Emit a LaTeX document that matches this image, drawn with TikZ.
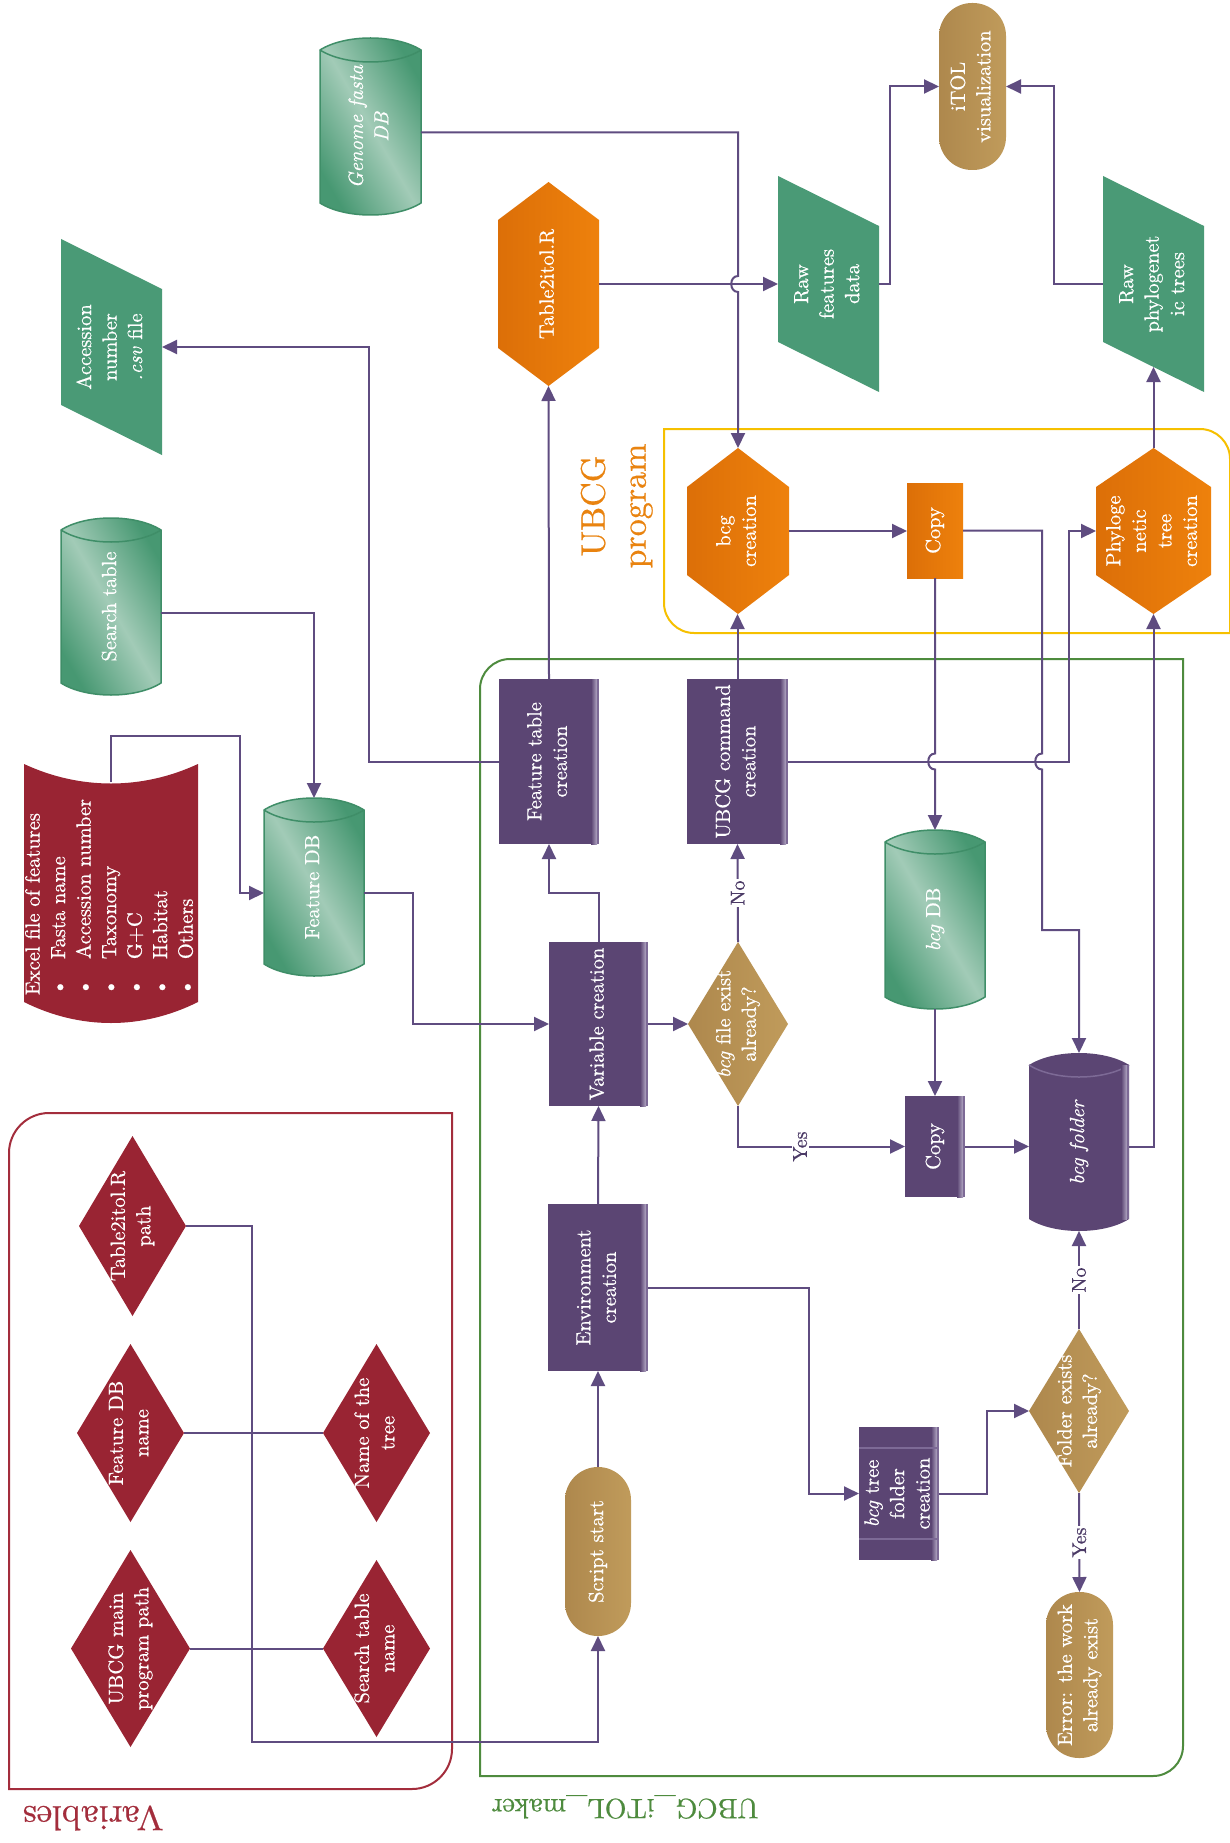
\documentclass[tikz,border=0pt]{standalone}
\usepackage{fontspec}
\setmainfont{lmroman10-regular.otf}[ItalicFont=lmroman10-italic.otf, BoldFont=lmroman10-bold.otf, FakeBold=0.6]
\usetikzlibrary{arrows.meta,calc}
\definecolor{pur}{HTML}{5B4573}
\definecolor{purL}{HTML}{B3A8C4}
\definecolor{purM}{HTML}{7D6A96}
\definecolor{lnc}{HTML}{5F4C80}
\definecolor{lbc}{HTML}{4B3A66}
\definecolor{grn}{HTML}{479872}
\definecolor{grnL}{HTML}{A2CBB7}
\definecolor{grnD}{HTML}{3F8E68}
\definecolor{grnP}{HTML}{4A9A76}
\definecolor{org}{HTML}{DC6F08}
\definecolor{orgL}{HTML}{EE810C}
\definecolor{orgT}{HTML}{E9830F}
\definecolor{gold}{HTML}{AE884D}
\definecolor{goldL}{HTML}{C09B5B}
\definecolor{redN}{HTML}{992433}
\definecolor{ylw}{HTML}{F6C000}
\definecolor{grC}{HTML}{4E8B3E}
\definecolor{rdC}{HTML}{A32D3C}
\tikzset{
  nd/.style={inner sep=0pt, outer sep=0pt, text=white, font=\fontsize{20.5}{25.5}\selectfont},
  ln/.style={draw=lnc, line width=2pt},
  arr/.style={ln, -{Triangle[length=15pt,width=14pt]}},
  lbl/.style={fill=white, text=lbc, inner sep=1.5pt, font=\fontsize{20}{22}\selectfont},
  cylG/.style={draw=grnD, line width=1.5pt, left color=grn, right color=grn, middle color=grnL, shading angle=120},
  arcG/.style={draw=grnD, line width=1.5pt},
  hexO/.style={left color=org, right color=orgL},
  goldS/.style={left color=gold, right color=goldL},
}
\newcommand{\rt}[1]{\rotatebox{90}{\begin{tabular}{@{}c@{}}#1\end{tabular}}}
\newcommand{\shpHex}[6]{\path[#1] ({(#2+#4)/2},#3) -- (#4,{#3+#6}) -- (#4,{#5-#6}) -- ({(#2+#4)/2},#5) -- (#2,{#5-#6}) -- (#2,{#3+#6}) -- cycle;}
\newcommand{\shpPara}[6]{\path[#1] (#2,#3) -- (#4,{#3+#6}) -- (#4,#5) -- (#2,{#5-#6}) -- cycle;}
\newcommand{\shpDia}[5]{\path[#1] (#2,{#3-#5/2}) -- ({#2+#4/2},#3) -- (#2,{#3+#5/2}) -- ({#2-#4/2},#3) -- cycle;}
\newcommand{\shpCyl}[7]{%
  \path[#1] (#2,{#3+#6}) .. controls ({#2+(#4-#2)/4},{#3+#6-4/3*#6}) and ({#4-(#4-#2)/4},{#3+#6-4/3*#6}) .. (#4,{#3+#6})
    -- (#4,{#5-#6}) .. controls ({#4-(#4-#2)/4},{#5-#6+4/3*#6}) and ({#2+(#4-#2)/4},{#5-#6+4/3*#6}) .. (#2,{#5-#6}) -- cycle;
  \path[#7] (#2,{#3+#6}) .. controls ({#2+(#4-#2)/4},{#3+#6+4/3*#6}) and ({#4-(#4-#2)/4},{#3+#6+4/3*#6}) .. (#4,{#3+#6});}
\newcommand{\prect}[4]{%
  \fill[pur] (#1,#2) rectangle (#3,#4);
  \shade[left color=pur, right color=purL] ({#3-8},#2) rectangle ({#3-2},#4);
  \fill[purM] ({#3-2},#2) rectangle (#3,#4);}
\begin{document}
\begin{tikzpicture}[x=1pt,y=-1pt]
\fill[white] (0,0) rectangle (1229,1843);
\useasboundingbox (0,0) rectangle (1229,1843);

% ---------- containers ----------
\draw[rdC, line width=2pt] (9,1153) .. controls (9,1131) and (27,1113) .. (49,1113) -- (452,1113) -- (452,1749)
  .. controls (452,1771) and (434,1789) .. (412,1789) -- (9,1789) -- cycle;
\draw[grC, line width=2pt] (480,689) .. controls (480,672.5) and (493.5,659) .. (510,659) -- (1183,659) -- (1183,1746)
  .. controls (1183,1762.5) and (1169.5,1776) .. (1153,1776) -- (480,1776) -- cycle;
\draw[ylw, line width=2pt] (664,429) -- (1200,429) .. controls (1216.5,429) and (1230,442.5) .. (1230,459) -- (1230,633)
  -- (694,633) .. controls (677.5,633) and (664,619.5) .. (664,603) -- cycle;

% ---------- shapes ----------
\shpCyl{cylG}{320}{38}{421}{215}{12}{arcG}
\shpCyl{cylG}{61}{518}{161}{695}{12}{arcG}
\shpCyl{cylG}{264}{798}{364}{976}{12}{arcG}
\shpCyl{cylG}{885}{830}{985}{1009}{12}{arcG}
\shpCyl{fill=pur}{1029}{1053}{1129}{1231}{12}{draw=purM, line width=1.5pt}
\shade[left color=pur, right color=purL] (1121,1065) rectangle (1127,1219);
\fill[purM] (1127,1065) rectangle (1129,1219);

\shpPara{fill=grnP}{61}{239}{162}{455}{50}
\shpPara{fill=grnP}{778}{176}{879}{392}{50}
\shpPara{fill=grnP}{1103}{176}{1204}{392}{50}

\shpHex{hexO}{498}{182}{599}{386}{38}
\shpHex{hexO}{687}{448}{789}{614}{39}
\shpHex{hexO}{1096}{448}{1211}{614}{39}
\path[hexO] (907,483) rectangle (963,578);

\path[goldS, rounded corners=33] (939,3) rectangle (1006,170);
\path[goldS, rounded corners=33] (565,1467) rectangle (631,1636);
\path[goldS, rounded corners=33] (1046,1592) rectangle (1113,1758);

\shpDia{goldS}{738}{1024}{100}{164}
\shpDia{goldS}{1079}{1411}{100}{164}

\shpDia{fill=redN}{132.5}{1226}{107}{180}
\shpDia{fill=redN}{130.5}{1433}{107}{178}
\shpDia{fill=redN}{130.5}{1648.5}{119}{197}
\shpDia{fill=redN}{376.5}{1433}{107}{178}
\shpDia{fill=redN}{376.5}{1648.5}{107}{177}

\path[fill=redN] (24,764) .. controls (80,790) and (142,790) .. (198,764) -- (198,1002)
  .. controls (142,1030) and (80,1030) .. (24,1002) -- cycle;

\prect{499}{679}{599}{844}
\prect{687}{679}{788}{844}
\prect{549}{942}{648}{1106}
\prect{548}{1204}{648}{1371}
\prect{905}{1096}{965}{1197}
\prect{859}{1427}{939}{1560}
\draw[purM, line width=1.5pt] (859,1448) -- (937,1448) (859,1539) -- (937,1539);

% ---------- nodes ----------
\node[nd, minimum width=101pt, minimum height=177pt] (genome) at (370.5,126.5) {\rt{\textit{Genome fasta}\\\textit{DB}}};
\node[nd, minimum width=101pt, minimum height=216pt] (acc) at (111.5,347) {\rt{Accession\\number\\\textit{.csv} file}};
\node[nd, minimum width=101pt, minimum height=204pt] (t2i) at (548.5,284) {\rt{Table2itol.R}};
\node[nd, minimum width=101pt, minimum height=216pt] (rfd) at (828.5,284) {\rt{Raw\\features\\data}};
\node[nd, minimum width=67pt, minimum height=167pt] (itol) at (972.5,86.5) {\rt{iTOL\\visualization}};
\node[nd, minimum width=101pt, minimum height=216pt] (rp) at (1153.5,284) {\rt{Raw\\phylogenet\\ic trees}};
\node[nd, minimum width=102pt, minimum height=166pt] (bcgcre) at (738,531) {\rt{bcg\\creation}};
\node[nd, minimum width=56pt, minimum height=95pt] (copyO) at (935,530.5) {\rt{Copy}};
\node[nd, minimum width=115pt, minimum height=166pt] (phylo) at (1153.5,531) {\rt{Phyloge\\netic\\tree\\creation}};
\node[nd, minimum width=100pt, minimum height=177pt] (search) at (111,606.5) {\rt{Search table}};
\node[nd, minimum width=174pt, minimum height=259pt] (excel) at (111,897) {\rotatebox{90}{\begin{tabular}{@{}l@{}}Excel file of features\\
  \makebox[36pt][l]{\textbullet}Fasta name\\ \makebox[36pt][l]{\textbullet}Accession number\\
  \makebox[36pt][l]{\textbullet}Taxonomy\\ \makebox[36pt][l]{\textbullet}G+C\\
  \makebox[36pt][l]{\textbullet}Habitat\\ \makebox[36pt][l]{\textbullet}Others\end{tabular}}};
\coordinate (exTop) at (111,782);
\node[nd, minimum width=100pt, minimum height=178pt] (fdb) at (314,887) {\rt{Feature DB}};
\node[nd, minimum width=100pt, minimum height=165pt] (ftc) at (549,761.5) {\rt{Feature table\\creation}};
\node[nd, minimum width=101pt, minimum height=165pt] (ucmd) at (737.5,761.5) {\rt{UBCG command\\creation}};
\node[nd, minimum width=99pt, minimum height=164pt] (varc) at (598.5,1024) {\rt{Variable creation}};
\node[nd, minimum width=100pt, minimum height=164pt] (bcgex) at (738,1024) {\rt{\textit{bcg} file exist\\already?}};
\node[nd, minimum width=100pt, minimum height=179pt] (bcgdb) at (935,919.5) {\rt{\textit{bcg} DB}};
\node[nd, minimum width=60pt, minimum height=101pt] (copyP) at (935,1146.5) {\rt{Copy}};
\node[nd, minimum width=100pt, minimum height=178pt] (bcgf) at (1079,1142) {\rt{\textit{bcg folder}}};
\node[nd, minimum width=100pt, minimum height=167pt] (envc) at (598,1287.5) {\rt{Environment\\creation}};
\node[nd, minimum width=66pt, minimum height=169pt] (script) at (598,1551.5) {\rt{Script start}};
\node[nd, minimum width=80pt, minimum height=133pt] (bcgtree) at (899,1493.5) {\rt{\textit{bcg} tree\\folder\\creation}};
\node[nd, minimum width=100pt, minimum height=164pt] (folderex) at (1079,1411) {\rt{Folder exists\\already?}};
\node[nd, minimum width=67pt, minimum height=166pt] (error) at (1079.5,1675) {\rt{Error: the work\\already exist}};
\node[nd, minimum width=107pt, minimum height=180pt] (t2ipath) at (132.5,1226) {\rt{Table2itol.R\\path}};
\node[nd, minimum width=107pt, minimum height=178pt] (fdbname) at (130.5,1433) {\rt{Feature DB\\name}};
\node[nd, minimum width=119pt, minimum height=197pt] (ubcgmain) at (130.5,1648.5) {\rt{UBCG main\\program path}};
\node[nd, minimum width=107pt, minimum height=178pt] (treename) at (376.5,1433) {\rt{Name of the\\tree}};
\node[nd, minimum width=107pt, minimum height=177pt] (searchname) at (376.5,1648.5) {\rt{Search table\\name}};

\node[inner sep=0pt, text=orgT, font=\fontsize{34}{41}\selectfont] (ubcgp) at (617,506) {\rt{UBCG\\program}};
\node[inner sep=0pt, text=rdC, font=\fontsize{35}{40}\selectfont] (vart) at (93,1818) {\rotatebox{180}{Variables}};
\node[inner sep=0pt, text=grC, font=\fontsize{28}{34}\selectfont] (makert) at (625,1807) {\rotatebox{180}{UBCG\_iTOL\_maker}};

% ---------- connectors ----------
\draw[arr] ($(genome.east)+(0,6)$) -- (738,132.5) -- (738,276) .. controls (729,276) and (729,292) .. (738,292) -- (bcgcre.north);
\draw[arr] (t2i.east) -- (rfd.west);
\draw[arr] (rfd.east) -- (890,284) |- (itol.west);
\draw[arr] (rp.west) -- (1054,284) |- (itol.east);
\draw[arr] (phylo.north) -- ($(rp.south)+(0,-25)$);
\draw[arr] (bcgcre.east) -- (bcgcre.east -| copyO.west);
\draw[arr] (copyO.east) -- (1042,530.5) -- (1042,753.5) .. controls (1033,753.5) and (1033,769.5) .. (1042,769.5) -- (1042,930) -| (bcgf.north);
\draw[arr] (copyO.south) -- (935,753.5) .. controls (926,753.5) and (926,769.5) .. (935,769.5) -- (bcgdb.north);
\draw[arr] (ucmd.north) -- (ucmd.north |- bcgcre.south);
\draw[arr] (ucmd.east) -| (1069,531) -- (phylo.west);
\draw[arr] (bcgdb.south) -- (copyP.north);
\draw[arr] (copyP.east) -- (copyP.east -| bcgf.west);
\draw[arr] (copyP.east -| bcgf.east) -| (phylo.south);
\draw[arr] (bcgex.north) -- node[lbl]{\rotatebox{90}{No}} (ucmd.south);
\draw[arr] (bcgex.south) |- node[lbl, pos=0.686]{\rotatebox{90}{Yes}} (copyP.west);
\draw[arr] (varc.east) -- (bcgex.west);
\draw[arr] (varc.north) -- (598.5,893) -| (ftc.south);
\draw[arr] (ftc.north) -- (t2i.south);
\draw[arr] (ftc.west) -- (369,761.5) |- (acc.east);
\draw[arr] ($(search.east)+(0,6.5)$) -| (fdb.north);
\draw[arr] (exTop) |- (240,736) |- ($(fdb.west)+(0,6)$);
\draw[arr] ($(fdb.east)+(0,6)$) -- (413,893) |- (varc.west);
\draw[arr] (envc.north) -- (varc.south);
\draw[arr] (script.north) -- (envc.south);
\draw[arr] (envc.east) -- (809,1287.5) |- (bcgtree.west);
\draw[arr] (bcgtree.east) -- (987,1493.5) |- (folderex.west);
\draw[arr] (folderex.north) -- node[lbl]{\rotatebox{90}{No}} (bcgf.south);
\draw[arr] (folderex.south) -- node[lbl]{\rotatebox{90}{Yes}} (error.north);
\draw[arr] (t2ipath.east) -- (252,1226) -- (252,1742) -| (script.south);
\draw[ln] (fdbname.east) -- (treename.west);
\draw[ln] (ubcgmain.east) -- (searchname.west);
\end{tikzpicture}
\end{document}
